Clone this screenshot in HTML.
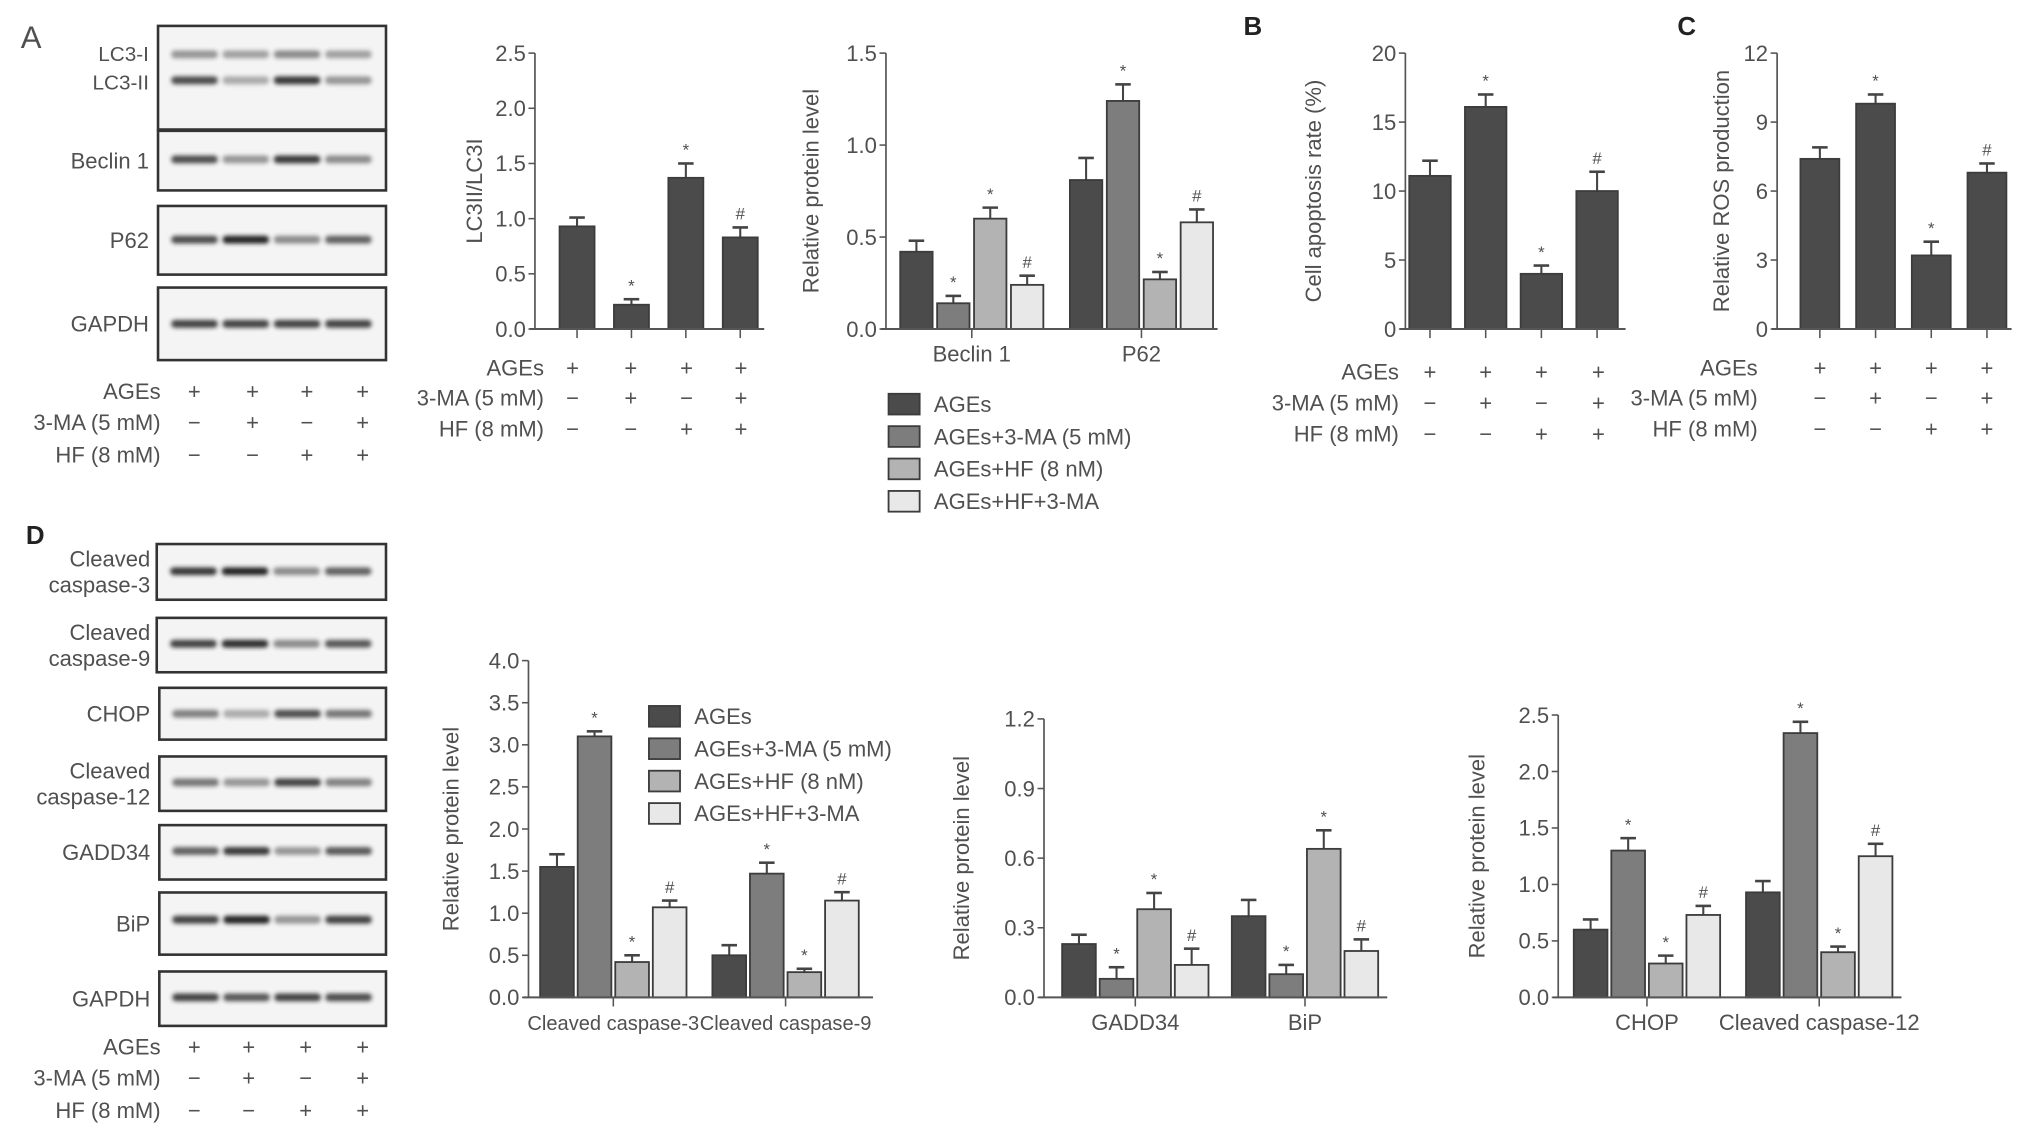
<!DOCTYPE html>
<html><head><meta charset="utf-8"><style>
html,body{margin:0;padding:0;background:#fff;}
svg{display:block;}
text{font-family:"Liberation Sans",sans-serif;fill:#505050;}
</style></head><body>
<svg id="fig" width="2031" height="1136" viewBox="0 0 1568 877" preserveAspectRatio="none" xmlns="http://www.w3.org/2000/svg">
<defs><filter id="blur" x="-20%" y="-100%" width="140%" height="300%"><feGaussianBlur stdDeviation="1.6"/></filter></defs>
<g id="root"></g>
</svg>
<script>
// ---- chart data ----
const groupLabels = ['AGEs','AGEs+3-MA (5 mM)','AGEs+HF (8 nM)','AGEs+HF+3-MA'];
const a1Values = [0.93,0.22,1.37,0.83];
const a1Errors = [0.08,0.05,0.13,0.09];
const a1Marks = ['','*','*','#'];
const a1Ticks = [0,0.5,1.0,1.5,2.0,2.5];
const a2Categories = ['Beclin 1','P62'];
const a2Values = [[0.42,0.14,0.60,0.24],[0.81,1.24,0.27,0.58]];
const a2Errors = [[0.06,0.04,0.06,0.05],[0.12,0.09,0.04,0.07]];
const a2Marks = [['','*','*','#'],['','*','*','#']];
const a2Ticks = [0,0.5,1.0,1.5];
const bValues = [11.1,16.1,4.0,10.0];
const bErrors = [1.1,0.9,0.6,1.4];
const bMarks = ['','*','*','#'];
const bTicks = [0,5,10,15,20];
const cValues = [7.4,9.8,3.2,6.8];
const cErrors = [0.5,0.4,0.6,0.4];
const cMarks = ['','*','*','#'];
const cTicks = [0,3,6,9,12];
const d1Categories = ['Cleaved caspase-3','Cleaved caspase-9'];
const d1Values = [[1.55,3.10,0.42,1.07],[0.50,1.47,0.30,1.15]];
const d1Errors = [[0.15,0.06,0.08,0.08],[0.12,0.13,0.04,0.10]];
const d1Marks = [['','*','*','#'],['','*','*','#']];
const d1Ticks = [0,0.5,1.0,1.5,2.0,2.5,3.0,3.5,4.0];
const d2Categories = ['GADD34','BiP'];
const d2Values = [[0.23,0.08,0.38,0.14],[0.35,0.10,0.64,0.20]];
const d2Errors = [[0.04,0.05,0.07,0.07],[0.07,0.04,0.08,0.05]];
const d2Marks = [['','*','*','#'],['','*','*','#']];
const d2Ticks = [0,0.3,0.6,0.9,1.2];
const d3Categories = ['CHOP','Cleaved caspase-12'];
const d3Values = [[0.60,1.30,0.30,0.73],[0.93,2.34,0.40,1.25]];
const d3Errors = [[0.09,0.11,0.07,0.08],[0.10,0.10,0.05,0.11]];
const d3Marks = [['','*','*','#'],['','*','*','#']];
const d3Ticks = [0,0.5,1.0,1.5,2.0,2.5];

const NS='http://www.w3.org/2000/svg';
const root=document.getElementById('root');
const FILLS=['#4b4b4b','#7d7d7d','#b3b3b3','#e8e8e8'];
function el(tag,attrs,parent,txt){const e=document.createElementNS(NS,tag);for(const k in attrs)e.setAttribute(k,attrs[k]);if(txt!==undefined)e.textContent=txt;(parent||root).appendChild(e);return e;}
function txt(x,y,s,size,anchor,parent,name){const t=el('text',{x:x,y:y,'font-size':size,'text-anchor':anchor||'start'},parent,s);

return t;}

function fmt(v,dec){return v.toFixed(dec);}
function chart(name,cfg,values,errors,marks,ticks,dec,ytitle,cats){
  const g=el('g',{});
  
  
  const max=ticks[ticks.length-1];
  const y=v=>cfg.y0-(v/max)*(cfg.y0-cfg.yTop);
  values.forEach((grp,gi)=>{
    grp.forEach((v,i)=>{
      const x=cfg.starts[gi]+i*cfg.step;
      const col=cfg.single?FILLS[0]:FILLS[i];
      const top=y(v), ey=y(v+errors[gi][i]), cx=x+cfg.bw/2;
      el('line',{x1:cx,x2:cx,y1:top,y2:ey,stroke:'#444','stroke-width':1.6},g);
      el('line',{x1:cx-6,x2:cx+6,y1:ey,y2:ey,stroke:'#444','stroke-width':2},g);
      const r=el('rect',{x:x,y:top,width:cfg.bw,height:cfg.y0-top,fill:col,stroke:'#3c3c3c','stroke-width':1.4},g);
      
      
      if(marks[gi][i]){txt(cx,ey-6,marks[gi][i],13,'middle',g,'significance-mark');}
      if(cfg.single){el('line',{x1:cx,x2:cx,y1:cfg.y0,y2:cfg.y0+7,stroke:'#555','stroke-width':1.2},g);}
    });
    if(!cfg.single){const cx=cfg.starts[gi]+1.5*cfg.step+cfg.bw/2;
      el('line',{x1:cx,x2:cx,y1:cfg.y0,y2:cfg.y0+7,stroke:'#555','stroke-width':1.2},g);
      txt(cx,cfg.y0+25,cats[gi],cfg.catSize||17,'middle',g,'x-category-label');}
  });
  el('line',{x1:cfg.ax,x2:cfg.ax,y1:cfg.yTop,y2:cfg.y0,stroke:'#555','stroke-width':1.3},g);
  el('line',{x1:cfg.ax-4,x2:cfg.xEnd,y1:cfg.y0,y2:cfg.y0,stroke:'#555','stroke-width':1.6},g);
  ticks.forEach(t=>{const ty=y(t);el('line',{x1:cfg.ax-5,x2:cfg.ax,y1:ty,y2:ty,stroke:'#555','stroke-width':1.2},g);
    txt(cfg.ax-7,ty+6,fmt(t,dec),17,'end',g,'y-tick-label');});
  const yt=txt(0,0,ytitle,17,'middle',g,'y-axis-title');
  yt.setAttribute('transform','translate('+cfg.titleX+','+((cfg.y0+cfg.yTop)/2)+') rotate(-90)');
  return g;
}
function wrap(a){return [a];}

chart('lc3-ratio-chart',{ax:413,y0:254,yTop:41,xEnd:590,starts:[432],step:42,bw:27,single:true,titleX:372},wrap(a1Values),wrap(a1Errors),wrap(a1Marks),a1Ticks,1,'LC3II/LC3I');
chart('beclin-p62-chart',{ax:684,y0:254,yTop:41,xEnd:940,starts:[695,826],step:28.5,bw:25,titleX:632},a2Values,a2Errors,a2Marks,a2Ticks,1,'Relative protein level',a2Categories);
chart('apoptosis-chart',{ax:1085,y0:254,yTop:41,xEnd:1255,starts:[1088],step:43,bw:32,single:true,titleX:1020},wrap(bValues),wrap(bErrors),wrap(bMarks),bTicks,0,'Cell apoptosis rate (%)');
chart('ros-chart',{ax:1372,y0:254,yTop:41,xEnd:1553,starts:[1390],step:43,bw:30,single:true,titleX:1335},wrap(cValues),wrap(cErrors),wrap(cMarks),cTicks,0,'Relative ROS production');
chart('caspase-chart',{ax:408,y0:770,yTop:510,xEnd:674,starts:[417,550],step:29,bw:26,titleX:354,catSize:15.5},d1Values,d1Errors,d1Marks,d1Ticks,1,'Relative protein level',d1Categories);
chart('gadd34-bip-chart',{ax:806,y0:770,yTop:555,xEnd:1071,starts:[820,951],step:29,bw:26,titleX:748},d2Values,d2Errors,d2Marks,d2Ticks,1,'Relative protein level',d2Categories);
chart('chop-casp12-chart',{ax:1203,y0:770,yTop:552,xEnd:1468,starts:[1215,1348],step:29,bw:26,titleX:1146},d3Values,d3Errors,d3Marks,d3Ticks,1,'Relative protein level',d3Categories);

function legend(x,y0,dy,name){const g=el('g',{});
  
  
  groupLabels.forEach((l,i)=>{const yy=y0+i*dy;el('rect',{x:x,y:yy-8,width:24,height:16,fill:FILLS[i],stroke:'#3c3c3c','stroke-width':1.4},g);
    txt(x+35,yy+6,l,17,'start',g,'legend-entry');});}
legend(686,312,25,'legend-a');
legend(501,553,25,'legend-d');

function table(name,labelX,lanes,ys,size){const g=el('g',{});
  
  
  const names=['AGEs','3-MA (5 mM)','HF (8 mM)'];
  const signs=[['+','+','+','+'],['\u2212','+','\u2212','+'],['\u2212','\u2212','+','+']];
  names.forEach((n,r)=>{txt(labelX,ys[r]+6,n,size,'end',g,'treatment-label');
    lanes.forEach((lx,i)=>txt(lx,ys[r]+6,signs[r][i],size,'middle',g,'treatment-sign'));});}
table('table-a-blot',124,[150,195,237,280],[302,326,351],17);
table('table-a-chart',420,[442,487,530,572],[284,307,331],17);
table('table-b',1080,[1104,1147,1190,1234],[287,311,335],17);
table('table-c',1357,[1405,1448,1491,1534],[284,307,331],17);
table('table-d',124,[150,192,236,280],[808,832,857],17);

function blot(name,x,y,w,h,labelLines,labelX,bands){const g=el('g',{});
  
  
  el('rect',{x:x,y:y,width:w,height:h,fill:'#f4f4f4',stroke:'#333','stroke-width':2},g);
  const lh=20;const ly=y+h/2-(labelLines.length-1)*lh/2+6;
  labelLines.forEach((l,i)=>txt(labelX,ly+i*lh,l,17,'end',g,'blot-label'));
  bands.forEach(b=>{b.int.forEach((a,i)=>{const cx=x+w*(0.16+i*0.225);
    el('rect',{x:cx-18,y:b.y-3,width:36,height:6,rx:3,fill:'#222',opacity:a,filter:'url(#blur)'},g);});});}
blot('blot-lc3',122,20,176,80,[],115,[{y:42,int:[0.45,0.4,0.5,0.4]},{y:62,int:[0.8,0.35,0.9,0.45]}]);
txt(115,47,'LC3-I',16,'end',root,'blot-label');txt(115,69,'LC3-II',16,'end',root,'blot-label');
blot('blot-beclin',122,101,176,46,['Beclin 1'],115,[{y:123,int:[0.8,0.45,0.9,0.5]}]);
blot('blot-p62',122,159,176,53,['P62'],115,[{y:185,int:[0.8,1,0.5,0.7]}]);
blot('blot-gapdh-a',122,222,176,56,['GAPDH'],115,[{y:250,int:[0.85,0.85,0.85,0.85]}]);
blot('blot-casp3',121,420,177,43,['Cleaved','caspase-3'],116,[{y:441,int:[0.9,1,0.5,0.7]}]);
blot('blot-casp9',121,477,177,42,['Cleaved','caspase-9'],116,[{y:497,int:[0.85,0.95,0.5,0.75]}]);
blot('blot-chop',123,531,175,40,['CHOP'],116,[{y:551,int:[0.55,0.35,0.8,0.6]}]);
blot('blot-casp12',123,584,175,42,['Cleaved','caspase-12'],116,[{y:604,int:[0.6,0.45,0.85,0.55]}]);
blot('blot-gadd34',123,637,175,42,['GADD34'],116,[{y:657,int:[0.7,0.9,0.45,0.75]}]);
blot('blot-bip',123,689,175,48,['BiP'],116,[{y:710,int:[0.85,1,0.45,0.85]}]);
blot('blot-gapdh-d',123,750,175,42,['GAPDH'],116,[{y:770,int:[0.85,0.75,0.85,0.8]}]);
txt(16,37,'A',24,'start',root,'panel-letter-a');
const B=txt(960,27,'B',20,'start',root,'panel-letter-b');B.setAttribute('font-weight','bold');B.setAttribute('style','fill:#222');
const C=txt(1295,27,'C',20,'start',root,'panel-letter-c');C.setAttribute('font-weight','bold');C.setAttribute('style','fill:#222');
const D=txt(20,420,'D',20,'start',root,'panel-letter-d');D.setAttribute('font-weight','bold');D.setAttribute('style','fill:#222');
</script>
</body></html>
